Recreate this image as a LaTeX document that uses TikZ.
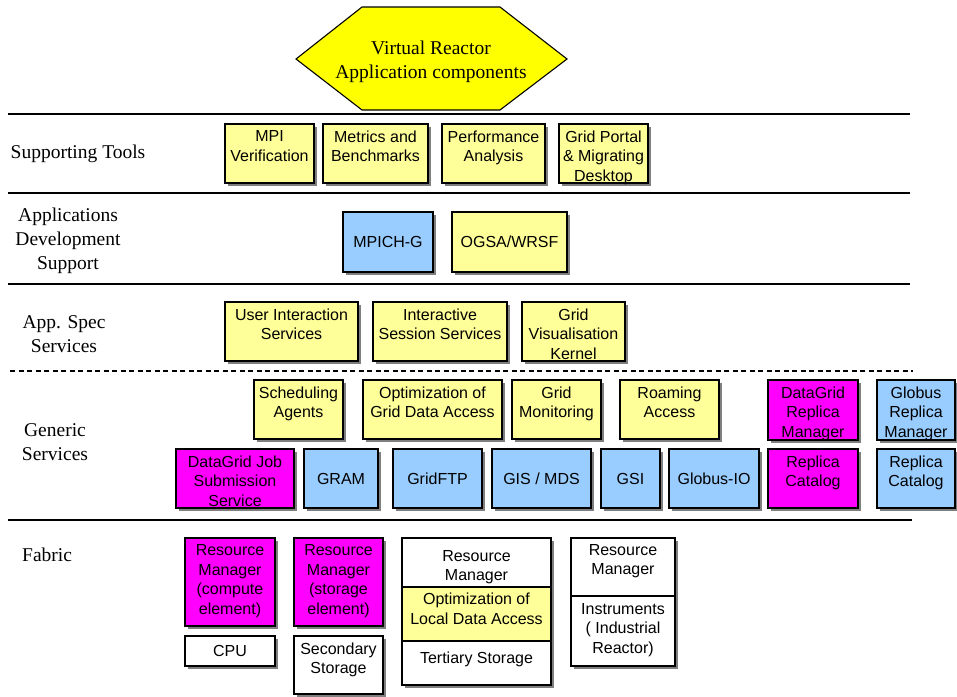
\documentclass[tikz,border=0pt]{standalone}
\usepackage{fontspec}
\setmainfont{Liberation Serif}
\newfontfamily\arialfam{Liberation Sans}

\definecolor{paleyellow}{HTML}{FFFF99}
\definecolor{hexyellow}{HTML}{FFFF00}
\definecolor{paleblue}{HTML}{99CCFF}
\definecolor{vivmagenta}{HTML}{FF00FF}
\definecolor{shadowgray}{HTML}{7F7F7F}

\tikzset{
  frame/.style={draw=black, line width=1.1pt},
  shadowfill/.style={fill=shadowgray},
  celltxt/.style={font=\arialfam\fontsize{16}{19.5}\selectfont, align=center, inner sep=0pt},
  layerlbl/.style={font=\fontsize{19.5}{24}\selectfont, align=center, inner sep=0pt},
  layerline/.style={line width=1.1pt},
  layerdash/.style={line width=1.1pt, dash pattern=on 5pt off 3.5pt},
}

% box with drop shadow: x1, y1, x2, y2, fill
\newcommand\shbox[5]{%
  \fill[shadowfill] ({#1+3},{#2+3}) rectangle ({#3+3},{#4+3});
  \draw[frame, fill=#5] (#1,#2) rectangle (#3,#4);}
% box whose text hangs from the top: name, x1, y1, x2, y2, fill, text
\newcommand\topcell[7]{%
  \shbox{#2}{#3}{#4}{#5}{#6}
  \node[celltxt, anchor=north] (#1) at ({(#2+#4)/2},{#3+6.5}) {#7};}
% box with vertically centred text: name, x1, y1, x2, y2, fill, text
\newcommand\midcell[7]{%
  \shbox{#2}{#3}{#4}{#5}{#6}
  \node[celltxt] (#1) at ({(#2+#4)/2},{(#3+#5)/2}) {#7};}

\begin{document}
\begin{tikzpicture}[x=1pt, y=-1pt]
  \useasboundingbox[fill=white] (0,0) rectangle (957,696);

  % application layer hexagon
  \draw[line width=1.1pt, fill=hexyellow]
    (296,59) -- (362,7) -- (500,7) -- (567,59) -- (500,110) -- (362,110) -- cycle;
  \node[layerlbl, anchor=north] (vr) at (431,41) {Virtual Reactor\\Application components};

  % layer separators
  \draw[layerline] (8,114) -- (910,114);
  \draw[layerline] (8,193) -- (910,193);
  \draw[layerline] (8,284) -- (910,284);
  \draw[layerdash] (10,371) -- (913,371);
  \draw[layerline] (8,520) -- (912,520);

  % layer names
  \node[layerlbl, anchor=north west] (lst) at (10.5,145) {Supporting Tools};
  \node[layerlbl, anchor=north] (lads) at (68,208) {Applications\\Development\\Support};
  \node[layerlbl, anchor=north] (lass) at (64,315) {App. Spec\\Services};
  \node[layerlbl, anchor=north] (lgs) at (55,423) {Generic\\Services};
  \node[layerlbl, anchor=north west] (lfab) at (22,548) {Fabric};

  % supporting tools
  \topcell{mpi}{225}{124}{314}{183}{paleyellow}{MPI\\Verification}
  \topcell{metrics}{323}{124}{428}{183}{paleyellow}{Metrics and\\Benchmarks}
  \topcell{perf}{442}{124}{545}{183}{paleyellow}{Performance\\Analysis}
  \topcell{portal}{559}{124}{648}{183}{paleyellow}{Grid Portal\\\& Migrating\\Desktop}

  % applications development support
  \midcell{mpich}{343}{212}{433}{272}{paleblue}{MPICH-G}
  \midcell{ogsa}{452}{212}{567}{272}{paleyellow}{OGSA/WRSF}

  % application specific services
  \topcell{uis}{225}{302}{358}{361}{paleyellow}{User Interaction\\Services}
  \topcell{iss}{373}{302}{507}{361}{paleyellow}{Interactive\\Session Services}
  \topcell{gvk}{522}{302}{625}{361}{paleyellow}{Grid\\Visualisation\\Kernel}

  % generic services, upper row
  \topcell{sched}{254}{380}{343}{439}{paleyellow}{Scheduling\\Agents}
  \topcell{ogda}{363}{380}{502}{439}{paleyellow}{Optimization of\\Grid Data Access}
  \topcell{gmon}{512}{380}{601}{439}{paleyellow}{Grid\\Monitoring}
  \topcell{roam}{620}{380}{719}{439}{paleyellow}{Roaming\\Access}
  \topcell{dgrm}{768}{380}{858}{440}{vivmagenta}{DataGrid\\Replica\\Manager}
  \topcell{grm}{877}{380}{955}{440}{paleblue}{Globus\\Replica\\Manager}

  % generic services, lower row
  \topcell{dgjss}{176}{449}{294}{508}{vivmagenta}{DataGrid Job\\Submission\\Service}
  \midcell{gram}{304}{449}{378}{508}{paleblue}{GRAM}
  \midcell{gftp}{393}{449}{482}{508}{paleblue}{GridFTP}
  \midcell{gis}{492}{449}{591}{508}{paleblue}{GIS / MDS}
  \midcell{gsi}{601}{449}{660}{508}{paleblue}{GSI}
  \midcell{gio}{669}{449}{759}{508}{paleblue}{Globus-IO}
  \topcell{rcdg}{768}{449}{858}{508}{vivmagenta}{Replica\\Catalog}
  \topcell{rcgl}{877}{449}{955}{508}{paleblue}{Replica\\Catalog}

  % fabric
  \topcell{rmc}{185}{538}{275}{626}{vivmagenta}{Resource\\Manager\\(compute\\element)}
  \midcell{cpu}{185}{636}{275}{666}{white}{CPU}
  \topcell{rms}{294}{538}{383}{626}{vivmagenta}{Resource\\Manager\\(storage\\element)}
  \topcell{sec}{294}{636}{383}{694}{white}{Secondary\\Storage}

  % tertiary storage stack
  \fill[shadowfill] (405,541) rectangle (554,688);
  \draw[frame, fill=white] (402,538) rectangle (551,587);
  \draw[frame, fill=paleyellow] (402,587) rectangle (551,641);
  \draw[frame, fill=white] (402,641) rectangle (551,685);
  \node[celltxt, anchor=north] (trm) at (476.5,550) {Resource\\Manager};
  \node[celltxt, anchor=north] (tolda) at (476.5,593) {Optimization of\\Local Data Access};
  \node[celltxt, anchor=north] (tts) at (476.5,652) {Tertiary Storage};

  % instruments stack
  \fill[shadowfill] (574,541) rectangle (678,669);
  \draw[frame, fill=white] (571,538) rectangle (675,596);
  \draw[frame, fill=white] (571,596) rectangle (675,666);
  \node[celltxt, anchor=north] (irm) at (623,544) {Resource\\Manager};
  \node[celltxt, anchor=north] (iinst) at (623,603) {Instruments\\( Industrial\\Reactor)};
\end{tikzpicture}
\end{document}
